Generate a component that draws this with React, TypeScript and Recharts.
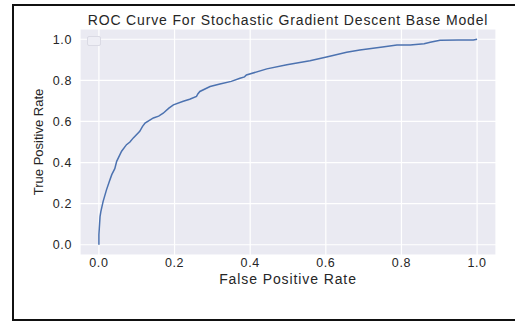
import type { FC } from "react"
import { CartesianGrid, Label, Line, LineChart, XAxis, YAxis } from "recharts"

// ROC curve points
const FPR = [
  0, 0, 0.003, 0.005, 0.011, 0.02, 0.028, 0.034, 0.042, 0.047, 0.06, 0.073, 0.082, 0.091,
  0.108, 0.115, 0.122, 0.144, 0.158, 0.17, 0.185, 0.197, 0.223, 0.24, 0.258, 0.262,
  0.267, 0.294, 0.32, 0.35, 0.373, 0.385, 0.39, 0.444, 0.497, 0.558, 0.602, 0.655,
  0.69, 0.75, 0.788, 0.823, 0.86, 0.876, 0.902, 0.95, 0.99, 1.0,
]
const TPR = [
  0, 0.05, 0.137, 0.16, 0.21, 0.267, 0.31, 0.341, 0.37, 0.406, 0.455, 0.487, 0.5, 0.52,
  0.552, 0.575, 0.592, 0.617, 0.626, 0.64, 0.665, 0.681, 0.698, 0.708, 0.722, 0.735,
  0.746, 0.77, 0.782, 0.795, 0.81, 0.817, 0.826, 0.856, 0.876, 0.895, 0.914, 0.937,
  0.948, 0.962, 0.972, 0.972, 0.978, 0.985, 0.995, 0.996, 0.997, 1.0,
]
const TICKS = [0, 0.2, 0.4, 0.6, 0.8, 1.0]

const TITLE = "ROC Curve For Stochastic Gradient Descent Base Model"
const X_LABEL = "False Positive Rate"
const Y_LABEL = "True Positive Rate"

const data = FPR.map((fpr, i) => ({ fpr, tpr: TPR[i] }))

const FONT = '"Liberation Sans", Arial, sans-serif'
const INK = "#262626"

const YTitle = ({ viewBox }: any) => {
  const cx = 43
  const cy = viewBox.y + viewBox.height / 2
  return (
    <text
      x={cx}
      y={cy}
      transform={`rotate(-90 ${cx} ${cy})`}
      textAnchor="middle"
      fill={INK}
      fontSize={13}
      fontFamily={FONT}
    >
      {Y_LABEL}
    </text>
  )
}

const App: FC = () => (
  <div
    style={{
      position: "absolute",
      top: 0,
      left: 0,
      width: 515,
      height: 321,
      overflow: "hidden",
      background: "#fff",
      fontFamily: FONT,
    }}
  >
    <div
      style={{
        position: "absolute",
        left: 12,
        top: 4,
        width: 540,
        height: 313,
        border: "2px solid #111",
      }}
    />
    <div
      style={{
        position: "absolute",
        top: 12,
        left: 80,
        width: 416,
        textAlign: "center",
        fontSize: 14,
        letterSpacing: 0.85,
        color: INK,
        whiteSpace: "nowrap",
      }}
    >
      {TITLE}
    </div>
    <div style={{ position: "absolute", top: 0, left: 0 }}>
      <LineChart
        width={515}
        height={321}
        data={data}
        margin={{ top: 29, right: 19, bottom: 36, left: 0 }}
      >
        <CartesianGrid fill="#eaeaf2" stroke="#ffffff" strokeWidth={1.2} />
        <XAxis
          type="number"
          dataKey="fpr"
          domain={[-0.05, 1.05]}
          ticks={TICKS}
          tickFormatter={(v: number) => v.toFixed(1)}
          axisLine={false}
          tickLine={false}
          tickSize={0}
          tickMargin={3}
          height={30}
          tick={{ fill: INK, fontSize: 12.5, fontFamily: FONT, letterSpacing: 0.6 }}
        >
          <Label
            value={X_LABEL}
            position="insideBottom"
            offset={1}
            fill={INK}
            fontSize={14}
            fontFamily={FONT}
            letterSpacing={0.9}
          />
        </XAxis>
        <YAxis
          type="number"
          domain={[-0.05, 1.05]}
          ticks={TICKS}
          tickFormatter={(v: number) => v.toFixed(1)}
          axisLine={false}
          tickLine={false}
          tickSize={0}
          tickMargin={8}
          width={80}
          tick={{ fill: INK, fontSize: 12.5, fontFamily: FONT, letterSpacing: 0.6 }}
        >
          <Label content={YTitle} />
        </YAxis>
        <Line
          type="linear"
          dataKey="tpr"
          stroke="#4c72b0"
          strokeWidth={1.5}
          dot={false}
          isAnimationActive={false}
        />
      </LineChart>
    </div>
    {/* empty legend frame, as in the reference */}
    <div
      style={{
        position: "absolute",
        left: 87,
        top: 36,
        width: 12,
        height: 8,
        border: "1px solid #dadae4",
        borderRadius: 2,
        background: "#eeeef5",
      }}
    />
  </div>
)

export default App
